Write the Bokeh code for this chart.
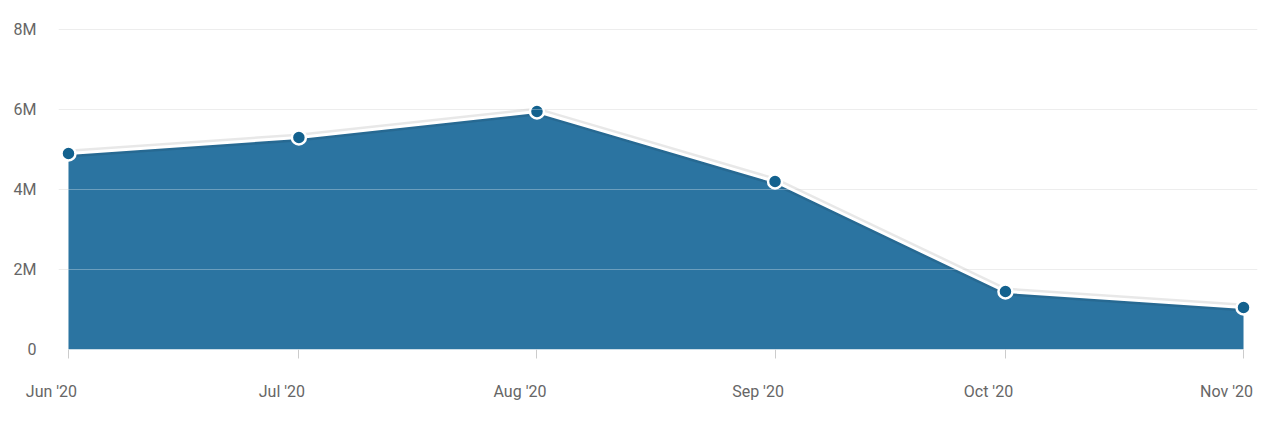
import datetime as dt
from bokeh.plotting import figure
from bokeh.models import (Range1d, DatetimeAxis, FixedTicker, Grid, LinearAxis,
                          ColumnDataSource)
from bokeh.core.properties import value
from bokeh.embed import file_html
from bokeh.resources import INLINE

# ---- data ----
months = ["2020-06-01", "2020-07-01", "2020-08-01", "2020-09-01", "2020-10-01", "2020-11-01"]
month_labels = ["Jun '20", "Jul '20", "Aug '20", "Sep '20", "Oct '20", "Nov '20"]
values = [4.9e6, 5.3e6, 5.95e6, 4.2e6, 1.45e6, 1.05e6]
y_ticks = [0, 2e6, 4e6, 6e6, 8e6]
y_tick_labels = ["0", "2M", "4M", "6M", "8M"]

dates = [dt.datetime.strptime(m, "%Y-%m-%d") for m in months]
ms = [(d - dt.datetime(1970, 1, 1)).total_seconds() * 1000 for d in dates]
DAY = 86400000.0

W = 1264
H1, H2 = 360, 55
BL, BR, BT, BB = 58, 7, 21, 11
frame_w = W - BL - BR
FONT = "Roboto"
FSIZE = "16px"
TCOL = "#666666"

x0 = ms[0] - 1.3 * DAY
x1 = ms[-1] + 1.82 * DAY
per_px = (x1 - x0) / frame_w

src = ColumnDataSource(dict(x=dates, y=values, base=[0] * len(values),
                            lab=month_labels))

p = figure(width=W, height=H1, output_backend="svg", toolbar_location=None,
           x_axis_type=None, y_axis_type=None,
           x_range=Range1d(x0, x1), y_range=Range1d(0, 8.2e6),
           min_border_left=BL, min_border_right=BR, min_border_top=BT,
           min_border_bottom=BB)
p.outline_line_color = None
p.background_fill_color = "white"
p.border_fill_color = "white"

# area
p.varea(x="x", y1="base", y2="y", source=src, fill_color="#2b74a1")
# line shadow + line
p.line(x="x", y="y", source=src, line_color="black", line_alpha=0.09, line_width=8)
p.line(x="x", y="y", source=src, line_color="white", line_width=3)
p.scatter(x="x", y="y", source=src, size=14, fill_color="#13618e",
          line_color="white", line_width=2.5)

# y axis
ya = LinearAxis(ticker=FixedTicker(ticks=y_ticks),
                major_label_overrides={t: l for t, l in zip(y_ticks, y_tick_labels)})
ya.axis_line_color = None
ya.major_tick_line_color = None
ya.minor_tick_line_color = None
ya.major_label_text_font = FONT
ya.major_label_text_font_size = FSIZE
ya.major_label_text_color = TCOL
ya.major_label_text_align = "center"
ya.major_label_standoff = 16
p.add_layout(ya, "left")

# grids
g1 = Grid(dimension=1, ticker=FixedTicker(ticks=y_ticks), grid_line_color="#e6e6e6",
          level="underlay")
g2 = Grid(dimension=1, ticker=FixedTicker(ticks=y_ticks[1:]), grid_line_color="white",
          grid_line_alpha=0.3, level="annotation")
p.add_layout(g1)
p.add_layout(g2)

# x axis ticks (labels drawn in the strip below)
xa = DatetimeAxis(ticker=FixedTicker(ticks=ms))
xa.major_label_overrides = {t: "" for t in ms}
xa.axis_line_color = None
xa.major_tick_line_color = "#cccccc"
xa.major_tick_in = 0
xa.major_tick_out = 9
xa.minor_tick_line_color = None
xa.major_label_standoff = 0
xa.major_label_text_font_size = "1px"
p.add_layout(xa, "below")

# label strip: same date scale, full width (separate root so frames are not aligned)
q = figure(width=W, height=H2, output_backend="svg", toolbar_location=None,
           x_axis_type=None, y_axis_type=None,
           x_range=Range1d(x0 - BL * per_px, x1 + BR * per_px),
           y_range=Range1d(H2, 0),
           min_border_left=0, min_border_right=0, min_border_top=0,
           min_border_bottom=0)
q.outline_line_color = None
q.background_fill_color = "white"
q.border_fill_color = "white"
q.xgrid.visible = False
q.ygrid.visible = False
q.text(x="x", y="base", text="lab", source=src, x_offset=-17, y_offset=31,
       text_font=value(FONT), text_font_size=FSIZE, text_color=TCOL,
       text_align="center", text_baseline="middle")

open("out.html", "w").write(file_html([p, q], INLINE))
